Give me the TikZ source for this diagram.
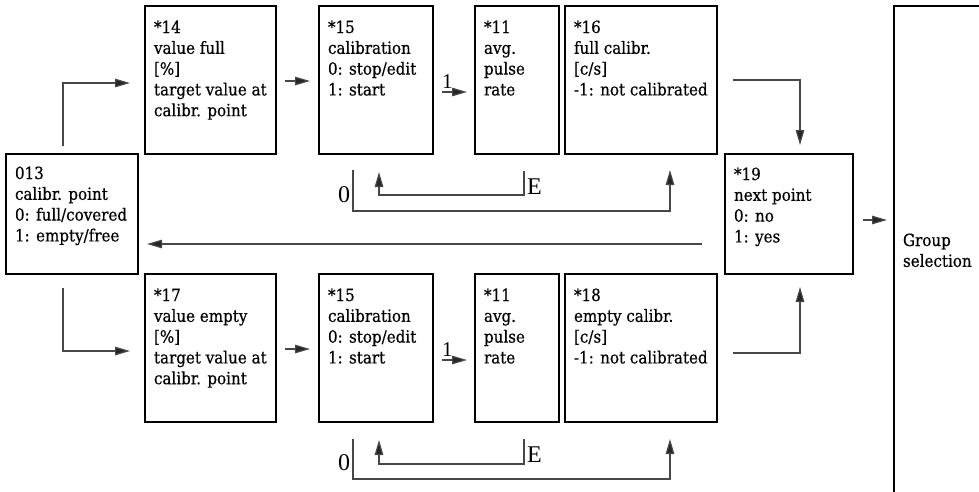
\documentclass[tikz,border=0pt]{standalone}
\usepackage{fontspec}
\setmainfont[FakeBold=0.5]{DejaVu Serif Condensed}
\newfontfamily\lblfont{Liberation Serif}
\usetikzlibrary{arrows.meta}
\newcommand\bxt[1]{\parbox[t]{220pt}{\raggedright #1}}
\begin{document}
\begin{tikzpicture}[x=1pt,y=-1pt,
  bx/.style={draw=black, line width=1.15pt, rectangle, inner sep=0pt, outer sep=0pt, anchor=north west},
  tx/.style={anchor=base west, inner sep=0pt, outer sep=0pt, font=\fontsize{16.8}{20.8}\selectfont},
  con/.style={draw=black!72, line width=1.2pt},
  arr/.style={con, -{Triangle[length=15pt,width=8.5pt,fill=black!85]}},
  lbl/.style={anchor=base west, inner sep=0pt, font=\lblfont\fontsize{24}{26}\selectfont},
  lblone/.style={anchor=base west, inner sep=0pt, font=\lblfont\fontsize{21}{23}\selectfont},
]
\useasboundingbox (0,0) rectangle (979,491);
\clip (0,0) rectangle (979,491);
% boxes
\node[bx, minimum width=132pt, minimum height=120pt] (b13) at (6,154) {};
\node[bx, minimum width=131pt, minimum height=148pt] (b14) at (145,6) {};
\node[bx, minimum width=114pt, minimum height=148pt] (b15t) at (319,6) {};
\node[bx, minimum width=84pt, minimum height=148pt] (b11t) at (475,6) {};
\node[bx, minimum width=152pt, minimum height=148pt] (b16) at (565,6) {};
\node[bx, minimum width=128pt, minimum height=120pt] (b19) at (725,154) {};
\node[bx, minimum width=131pt, minimum height=148pt] (b17) at (145,274) {};
\node[bx, minimum width=114pt, minimum height=148pt] (b15b) at (319,274) {};
\node[bx, minimum width=84pt, minimum height=148pt] (b11b) at (475,274) {};
\node[bx, minimum width=152pt, minimum height=148pt] (b18) at (565,274) {};
\node[bx, minimum width=140pt, minimum height=540pt] (grp) at (894,6) {};
% texts
\node[tx] (t13) at (15,179) {\bxt{013\\calibr. point\\0: full/covered\\1: empty/free}};
\node[tx] (t14) at (154,33) {\bxt{*14\\value full\\{[}\%{]}\\target value at\\calibr. point}};
\node[tx] (t15t) at (328,33) {\bxt{*15\\calibration\\0: stop/edit\\1: start}};
\node[tx] (t11t) at (484,33) {\bxt{*11\\avg.\\pulse\\rate}};
\node[tx] (t16) at (574,33) {\bxt{*16\\full calibr.\\{[}c/s{]}\\-1: not calibrated}};
\node[tx] (t19) at (734,180) {\bxt{*19\\next point\\0: no\\1: yes}};
\node[tx] (t17) at (154,301) {\bxt{*17\\value empty\\{[}\%{]}\\target value at\\calibr. point}};
\node[tx] (t15b) at (328,301) {\bxt{*15\\calibration\\0: stop/edit\\1: start}};
\node[tx] (t11b) at (484,301) {\bxt{*11\\avg.\\pulse\\rate}};
\node[tx] (t18) at (574,301) {\bxt{*18\\empty calibr.\\{[}c/s{]}\\-1: not calibrated}};
\node[tx] (tg) at (903,246) {\bxt{Group\\selection}};
% connector end points
\coordinate (u0) at (63,146);   \coordinate (u1) at (130,83);
\coordinate (d0) at (63,288);   \coordinate (d1) at (130,351);
\coordinate (p0) at (285,81);   \coordinate (p1) at (310,81);
\coordinate (q0) at (442,92);   \coordinate (q1) at (467,92);
\coordinate (r0) at (285,349);  \coordinate (r1) at (310,349);
\coordinate (s0) at (442,360);  \coordinate (s1) at (467,360);
\coordinate (f0) at (733,80);   \coordinate (f1) at (800,145);
\coordinate (e0) at (733,353);  \coordinate (e1) at (800,287);
\coordinate (g0) at (863,220);  \coordinate (g1) at (887,220);
\coordinate (n0) at (702,244);  \coordinate (n1) at (147,244);
\coordinate (zt0) at (353,170); \coordinate (zt1) at (670,170);
\coordinate (et0) at (524,171); \coordinate (et1) at (379,172);
\coordinate (zb0) at (353,439); \coordinate (zb1) at (670,439);
\coordinate (eb0) at (524,439); \coordinate (eb1) at (379,440);
% connectors
\draw[arr] (u0) |- (u1);
\draw[arr] (d0) |- (d1);
\draw[arr] (p0) -- (p1);
\draw[arr] (q0) -- (q1);
\draw[arr] (r0) -- (r1);
\draw[arr] (s0) -- (s1);
\draw[arr] (f0) -| (f1);
\draw[arr] (e0) -| (e1);
\draw[arr] (g0) -- (g1);
\draw[arr] (n0) -- (n1);
\draw[arr] (zt0) -- (353,211) -- (670,211) -- (zt1);
\draw[arr] (et0) -- (524,195) -- (379,195) -- (et1);
\draw[arr] (zb0) -- (353,479) -- (670,479) -- (zb1);
\draw[arr] (eb0) -- (524,464) -- (379,464) -- (eb1);
% labels
\node[lblone] (l1t) at (442,88) {1};
\node[lblone] (l1b) at (442,356) {1};
\node[lbl] (l0t) at (338,202) {0};
\node[lbl] (l0b) at (338,470) {0};
\node[lbl] (lEt) at (527,194) {E};
\node[lbl] (lEb) at (527,462) {E};
\end{tikzpicture}
\end{document}
